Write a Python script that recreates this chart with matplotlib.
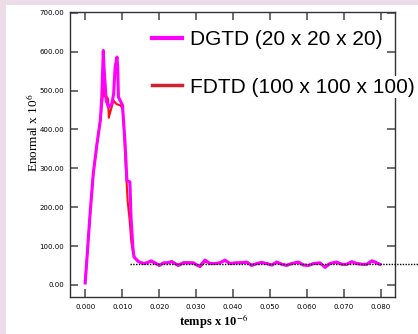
import matplotlib.pyplot as plt
from matplotlib.lines import Line2D
from matplotlib.patches import Rectangle

# DGTD (20 x 20 x 20) - magenta
t_dgtd = [0.0, 0.00045, 0.00135, 0.0022, 0.0032, 0.0041, 0.0045, 0.0049, 0.0051,
          0.0054, 0.0057, 0.0063, 0.0072, 0.0077, 0.0081, 0.0086, 0.0088, 0.0090,
          0.0095, 0.0101, 0.0108, 0.0113, 0.0121, 0.0124, 0.0129, 0.0132, 0.0144,
          0.0158, 0.0168, 0.0178, 0.0189, 0.0201, 0.0212, 0.0225, 0.0234, 0.0243,
          0.0252, 0.0266, 0.0279, 0.0293, 0.0302, 0.0311, 0.0324, 0.0338, 0.0351,
          0.0365, 0.0378, 0.0392, 0.0405, 0.0423, 0.0437, 0.0450, 0.0464, 0.0477,
          0.0491, 0.0505, 0.0518, 0.0532, 0.0545, 0.0559, 0.0577, 0.0590, 0.0604,
          0.0617, 0.0635, 0.0649, 0.0662, 0.0680, 0.0694, 0.0707, 0.0721, 0.0734,
          0.0748, 0.0761, 0.0775, 0.0784, 0.0797]
e_dgtd = [5, 64, 185, 287, 363, 423, 483, 603, 560,
          517, 474, 457, 466, 491, 560, 586, 560, 483,
          474, 462, 363, 268, 265, 175, 98, 72, 60,
          55, 57, 62, 57, 50, 57, 57, 60, 55,
          50, 57, 57, 57, 51, 49, 64, 55, 55,
          57, 64, 55, 57, 57, 59, 50, 55, 58,
          55, 51, 59, 53, 50, 55, 59, 51, 50,
          55, 57, 45, 55, 59, 53, 53, 60, 55,
          53, 53, 62, 59, 53]

# FDTD (100 x 100 x 100) - red
t_fdtd = [0.0, 0.00045, 0.00135, 0.0022, 0.0032, 0.0041, 0.0047, 0.0050, 0.0053,
          0.0059, 0.0062, 0.0064, 0.0068, 0.0073, 0.0077, 0.0085, 0.0095, 0.0101,
          0.0105, 0.0110, 0.0115, 0.0120, 0.0125, 0.0130, 0.0136, 0.0145,
          0.0158, 0.0168, 0.0178, 0.0189, 0.0201, 0.0212, 0.0225, 0.0234, 0.0243,
          0.0252, 0.0266, 0.0279, 0.0293, 0.0302, 0.0311, 0.0324, 0.0338, 0.0351,
          0.0365, 0.0378, 0.0392, 0.0405, 0.0423, 0.0437, 0.0450, 0.0464, 0.0477,
          0.0491, 0.0505, 0.0518, 0.0532, 0.0545, 0.0559, 0.0577, 0.0590, 0.0604,
          0.0617, 0.0635, 0.0649, 0.0662, 0.0680, 0.0694, 0.0707, 0.0721, 0.0734,
          0.0748, 0.0761, 0.0775, 0.0784, 0.0797]
e_fdtd = [5, 64, 185, 287, 363, 423, 480, 520, 485,
          483, 478, 430, 445, 462, 474, 465, 462, 455,
          400, 300, 215, 170, 110, 80, 68, 60,
          56, 58, 60, 55, 52, 56, 58, 61, 56,
          52, 58, 58, 56, 50, 46, 60, 56, 54,
          58, 62, 54, 56, 58, 58, 52, 54, 57,
          56, 52, 58, 54, 51, 56, 58, 52, 51,
          54, 56, 47, 56, 58, 54, 52, 59, 56,
          54, 52, 60, 58, 54]

# reference level (dotted)
t_ref = [0.0122, 0.0905]
e_ref = [53, 53]

x_ticks = [0.0, 0.01, 0.02, 0.03, 0.04, 0.05, 0.06, 0.07, 0.08]
y_ticks = [0, 100, 200, 300, 400, 500, 600, 700]

plt.rcParams['mathtext.fontset'] = 'stix'

fig = plt.figure(figsize=(4.18, 3.34), dpi=100, facecolor='#ecdce8')
fig.patches.append(Rectangle((6 / 418, 0), 1, 1 - 5 / 334, transform=fig.transFigure,
                             facecolor='white', edgecolor='none', zorder=-10))
ax = fig.add_axes([70 / 418, 1 - 297 / 334, 325 / 418, 285 / 334])

ax.plot(t_fdtd, e_fdtd, color='#ff1010', lw=1.5, zorder=3)
ax.plot(t_dgtd, e_dgtd, color='#ff00ff', lw=2.2, zorder=4)
ax.plot(t_ref, e_ref, color='black', lw=1.0, ls=(0, (1, 1)), clip_on=False, zorder=5)

ax.set_xlim(-0.0041, 0.0838)
ax.set_ylim(-31, 702)
ax.set_xticks(x_ticks)
ax.set_yticks(y_ticks)
ax.set_xticklabels(['%.3f' % v for v in x_ticks])
ax.set_yticklabels(['%.2f' % v for v in y_ticks])
ax.tick_params(direction='in', length=6, width=1.2, color='#555555',
               top=True, right=True, labelsize=5, pad=4)
ax.tick_params(axis='x', pad=5)
for s in ax.spines.values():
    s.set_color('#333333')
    s.set_linewidth(1.0)

ax.set_xlabel(r'temps x 10$^{-6}$', family='Liberation Serif', fontsize=9, fontweight='bold')
ax.xaxis.set_label_coords(0.443, -0.052)
ax.set_ylabel(r'Enormal x 10$^{6}$', family='Liberation Serif', fontsize=9.5)
ax.yaxis.set_label_coords(-0.089, 0.575)

handles = [Line2D([], [], color='#ff00ff', lw=3.0),
           Line2D([], [], color='#d42030', lw=2.5)]
leg = fig.legend(handles, ['DGTD (20 x 20 x 20)', 'FDTD (100 x 100 x 100)'],
                 loc='center left', bbox_to_anchor=(152 / 418, 1 - 63.5 / 334),
                 frameon=False, borderpad=0, borderaxespad=0,
                 prop={'family': 'Liberation Sans', 'size': 15},
                 handlelength=1.44, handletextpad=0.38, labelspacing=1.35)
leg.get_texts()[1].set_bbox(dict(facecolor='white', edgecolor='none', pad=1))

fig.savefig('out.png', dpi=100, facecolor=fig.get_facecolor())
